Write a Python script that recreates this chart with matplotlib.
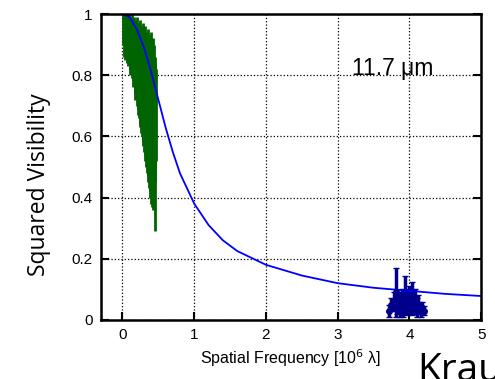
import numpy as np
import matplotlib
matplotlib.use("Agg")
import matplotlib.pyplot as plt

# model curve
model_x = [0.0, 0.1, 0.2, 0.3, 0.4, 0.5, 0.6, 0.7, 0.8, 1.0, 1.2, 1.4, 1.6, 2.0, 2.5, 3.0, 3.5, 4.0, 4.5, 5.0]
model_v2 = [1.0, 0.99, 0.95, 0.89, 0.81, 0.72, 0.63, 0.55, 0.48, 0.38, 0.31, 0.26, 0.225, 0.18, 0.145, 0.12, 0.105, 0.095, 0.085, 0.078]

# short baselines (green): error bar ranges
short_x = [0.01, 0.02, 0.03, 0.04, 0.05, 0.06, 0.07, 0.08, 0.09, 0.10, 0.11, 0.12, 0.13, 0.14, 0.15, 0.16,
           0.17, 0.18, 0.19, 0.20, 0.21, 0.22, 0.23, 0.24, 0.25, 0.26, 0.27, 0.28, 0.29, 0.30, 0.31, 0.32,
           0.33, 0.34, 0.35, 0.36, 0.37, 0.38, 0.39, 0.40, 0.41, 0.42, 0.43, 0.44, 0.45, 0.46, 0.47]
short_hi = [1.00, 1.00, 0.99, 1.00, 0.98, 1.00, 0.99, 0.97, 1.00, 0.98, 0.99, 0.97, 1.00, 0.96, 0.98, 0.99,
            0.95, 0.98, 0.96, 0.99, 0.94, 0.97, 0.95, 0.98, 0.93, 0.96, 0.94, 0.97, 0.92, 0.95, 0.93, 0.96,
            0.90, 0.94, 0.92, 0.95, 0.89, 0.93, 0.91, 0.94, 0.88, 0.92, 0.87, 0.90, 0.86, 0.84, 0.82]
short_lo = [0.90, 0.86, 0.88, 0.85, 0.87, 0.84, 0.86, 0.83, 0.84, 0.82, 0.80, 0.81, 0.79, 0.78, 0.76, 0.77,
            0.74, 0.72, 0.73, 0.70, 0.69, 0.67, 0.66, 0.64, 0.63, 0.61, 0.60, 0.58, 0.57, 0.55, 0.54, 0.52,
            0.50, 0.48, 0.47, 0.45, 0.43, 0.42, 0.40, 0.38, 0.37, 0.40, 0.36, 0.44, 0.29, 0.45, 0.52]

# long baselines (dark blue)
long_x = [3.72, 3.75, 3.78, 3.81, 3.83, 3.85, 3.87, 3.89, 3.91, 3.94, 3.96, 3.98, 4.00, 4.02,
          4.04, 4.06, 4.08, 4.10, 4.12, 4.14, 4.16, 4.18, 4.20]
long_v2 = [0.03, 0.05, 0.06, 0.09, 0.05, 0.06, 0.05, 0.07, 0.04, 0.08, 0.05, 0.06, 0.07, 0.05,
           0.07, 0.05, 0.06, 0.04, 0.05, 0.04, 0.03, 0.04, 0.03]
long_err = [0.02, 0.02, 0.03, 0.08, 0.03, 0.03, 0.04, 0.03, 0.03, 0.065, 0.03, 0.04, 0.04, 0.03,
            0.055, 0.03, 0.04, 0.03, 0.03, 0.02, 0.02, 0.02, 0.015]

fig = plt.figure(figsize=(4.95, 3.79), dpi=100)
ax = fig.add_axes([0.204, 0.156, 0.768, 0.807])

ax.vlines(short_x, short_lo, short_hi, color='#006400', lw=2.0)
ax.errorbar(long_x, long_v2, yerr=long_err, fmt='o', color='#00008b', ms=4, elinewidth=2.5, capsize=2)
ax.plot(model_x, model_v2, color='#0000ff', lw=1.3)

ax.set_xlim(-0.3, 5)
ax.set_ylim(0, 1)
ax.set_xticks([0, 1, 2, 3, 4, 5])
ax.set_yticks([0, 0.2, 0.4, 0.6, 0.8, 1])
ax.set_yticklabels(['0', '0.2', '0.4', '0.6', '0.8', '1'])
ax.grid(True, color='black', linestyle=':', linewidth=0.9)
ax.tick_params(direction='in', length=6, width=1.5, labelsize=11, top=False, right=True, pad=6)
for lbl in ax.get_xticklabels() + ax.get_yticklabels():
    lbl.set_fontfamily('Liberation Sans')
for s in ax.spines.values():
    s.set_linewidth(1.8)

ax.set_xlabel('Spatial Frequency [10$^6$ λ]', fontsize=11.5, family='Liberation Sans', labelpad=4)
fig.text(0.079, 0.512, 'Squared Visibility', fontsize=16.5, family='Open Sans',
         rotation=90, ha='center', va='center')

ax.text(3.2, 0.80, '11.7 μm', fontsize=16.5, family='Liberation Sans', ha='left', va='baseline')
fig.text(0.842, -0.03, 'Krau', fontsize=28, family='Open Sans', ha='left', va='bottom')

fig.savefig('out.png', dpi=100)
